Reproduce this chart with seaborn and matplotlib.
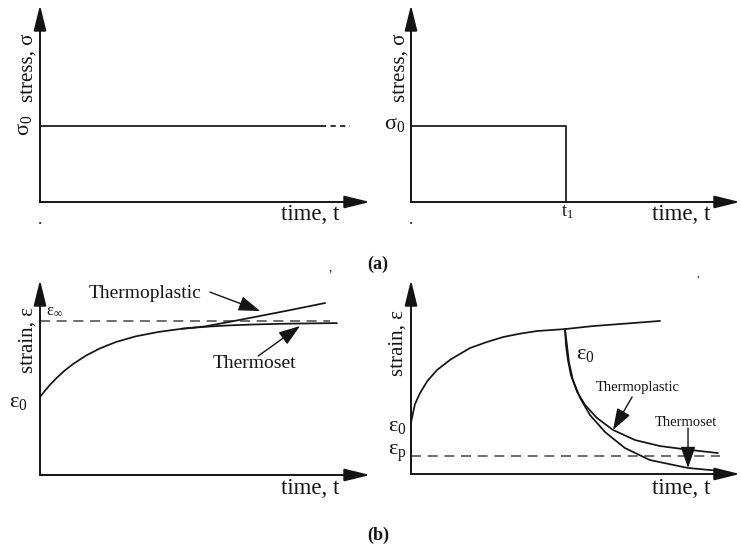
import matplotlib
matplotlib.use("Agg")
import matplotlib.pyplot as plt
import seaborn as sns

sns.set_theme(style="white")
plt.rcParams["font.family"] = ["Liberation Serif", "DejaVu Serif"]
plt.rcParams["mathtext.fontset"] = "stix"
plt.rcParams["mathtext.default"] = "regular"

# ---------------- data (arbitrary units, time axis 0..10) ----------------
# (a) left: constant stress held
t_hold = [0.0, 8.5]
sigma_hold = [1.0, 1.0]
t_hold_cont = [8.5, 9.4]
sigma_hold_cont = [1.0, 1.0]
# (a) right: stress removed at t1
t1 = 4.71
t_pulse = [0.0, t1, t1]
sigma_pulse = [1.0, 1.0, 0.0]
sigma0 = 1.0

# (b) left: creep under constant stress
t_creep = [0.0, 0.15, 0.3, 0.5, 0.75, 1.0, 1.4, 1.8, 2.3, 2.9, 3.6, 4.3]
eps_creep = [4.0, 4.32, 4.62, 4.97, 5.36, 5.69, 6.13, 6.48, 6.82, 7.11, 7.34, 7.50]
t_thermoset = [4.3, 5.0, 5.7, 6.5, 7.5, 9.0]
eps_thermoset = [7.50, 7.60, 7.67, 7.72, 7.76, 7.79]
t_thermoplastic = [4.3, 5.0, 5.7, 6.5, 7.5, 8.64]
eps_thermoplastic = [7.50, 7.62, 7.84, 8.10, 8.43, 8.82]
eps_inf = 7.9
t_inf_end = 8.79

# (b) right: creep then recovery after unloading
t_load = [0.0, 0.06, 0.12, 0.27, 0.5, 0.79, 1.2, 1.79, 2.3, 2.8, 3.3, 3.83, 4.68, 5.5, 6.5, 7.57]
eps_load = [2.63, 3.14, 3.6, 4.16, 4.8, 5.36, 5.9, 6.49, 6.8, 7.06, 7.23, 7.37, 7.47, 7.62, 7.75, 7.89]
t_rec_plastic = [4.68, 4.71, 4.77, 4.86, 5.05, 5.29, 5.65, 6.14, 6.81, 7.57, 8.48, 9.33]
eps_rec_plastic = [7.47, 6.65, 5.88, 5.10, 4.23, 3.56, 2.89, 2.27, 1.75, 1.44, 1.24, 1.08]
t_rec_set = [4.68, 4.74, 4.80, 4.92, 5.14, 5.44, 5.90, 6.50, 7.26, 8.42, 9.45]
eps_rec_set = [7.47, 6.65, 5.77, 4.85, 3.92, 3.04, 2.16, 1.34, 0.72, 0.31, 0.15]
eps_p = 0.93
t_p_end = 9.39

# ---------------- layout helpers ----------------
W, H = 741, 550
fig = plt.figure(figsize=(W / 100, H / 100), dpi=100)
fig.patch.set_facecolor("white")

INK = "#141414"
DASH = "#555555"


def make_axes(left, top, right, bottom, ymax):
    ax = fig.add_axes([left / W, 1 - bottom / H, (right - left) / W, (bottom - top) / H])
    ax.set_xlim(0, 10)
    ax.set_ylim(0, ymax)
    ax.axis("off")
    head = dict(arrowstyle="-|>,head_length=1.3,head_width=0.32", color=INK,
                lw=1.4, mutation_scale=12, shrinkA=0, shrinkB=0)
    ax.annotate("", xy=(1, 0), xytext=(0, 0), xycoords="axes fraction",
                arrowprops=head, annotation_clip=False)
    ax.annotate("", xy=(0, 1), xytext=(0, 0), xycoords="axes fraction",
                arrowprops=head, annotation_clip=False)
    return ax


def txt(x, y, s, size=15, **kw):
    fig.text(x / W, 1 - y / H, s, fontsize=size, ha=kw.pop("ha", "center"),
             va=kw.pop("va", "center"), color=INK, **kw)


def curve(ax, x, y, **kw):
    sns.lineplot(x=x, y=y, ax=ax, sort=False, estimator=None,
                 color=kw.pop("color", INK), lw=kw.pop("lw", 1.25), **kw)


def pointer(ax, start, end):
    ax.annotate("", xy=end, xytext=start, xycoords="data",
                arrowprops=dict(arrowstyle="-|>,head_length=1.1,head_width=0.38",
                                color=INK, lw=1.0, mutation_scale=12,
                                shrinkA=0, shrinkB=0),
                annotation_clip=False)


# ---------------- (a) stress histories ----------------
ax1 = make_axes(40, 5, 370, 202, 2.6)
curve(ax1, t_hold, sigma_hold)
curve(ax1, t_hold_cont, sigma_hold_cont, linestyle=(0, (3, 2.5)))
txt(28, 68, "stress, σ", rotation=90)
txt(24, 125, r"$\sigma_0$", size=16, rotation=90)
txt(310, 215, "time, t", size=16.5)
txt(40, 220, ".", size=12)

ax2 = make_axes(411, 5, 740, 202, 2.6)
curve(ax2, t_pulse, sigma_pulse)
txt(400, 68, "stress, σ", rotation=90)
txt(395, 124, r"$\sigma_0$", size=16)
txt(567, 212, r"$t_1$", size=13)
txt(681, 215, "time, t", size=16.5)
txt(411, 220, ".", size=12)

txt(378, 264, "(a)", size=13, fontweight="bold")

# ---------------- (b) strain responses ----------------
ax3 = make_axes(40, 280, 370, 475, 10)
curve(ax3, [0, t_inf_end], [eps_inf, eps_inf], color=DASH, lw=1.2,
      linestyle=(0, (6, 4)))
curve(ax3, t_creep, eps_creep)
curve(ax3, t_thermoset, eps_thermoset)
curve(ax3, t_thermoplastic, eps_thermoplastic)
pointer(ax3, (5.15, 9.38), (6.67, 8.41))
pointer(ax3, (6.61, 6.1), (7.88, 7.64))
txt(28, 340, "strain, ε", rotation=90)
txt(54, 311, r"$\varepsilon_\infty$", size=12)
txt(18, 402, r"$\varepsilon_0$", size=16)
txt(145, 293, "Thermoplastic", size=14)
txt(255, 364, "Thermoset", size=14)
txt(310, 488, "time, t", size=16.5)
txt(330, 268, ",", size=9)

ax4 = make_axes(411, 280, 740, 474, 10)
curve(ax4, [0, t_p_end], [eps_p, eps_p], color=DASH, lw=1.2,
      linestyle=(0, (6, 4)))
curve(ax4, t_load, eps_load)
curve(ax4, t_rec_plastic, eps_rec_plastic)
curve(ax4, t_rec_set, eps_rec_set)
pointer(ax4, (6.72, 3.97), (6.14, 2.27))
pointer(ax4, (8.42, 2.37), (8.42, 0.31))
txt(398, 343, "strain, ε", rotation=90)
txt(397, 427, r"$\varepsilon_0$", size=16)
txt(397, 453, r"$\varepsilon_p$", size=16)
txt(585, 355, r"$\varepsilon_0$", size=16)
txt(638, 388, "Thermoplastic", size=10.5)
txt(686, 422, "Thermoset", size=10.5)
txt(681, 488, "time, t", size=16.5)
txt(698, 274, ",", size=8)

txt(378, 535, "(b)", size=13, fontweight="bold")

fig.savefig("out.png", dpi=100, facecolor="white")
